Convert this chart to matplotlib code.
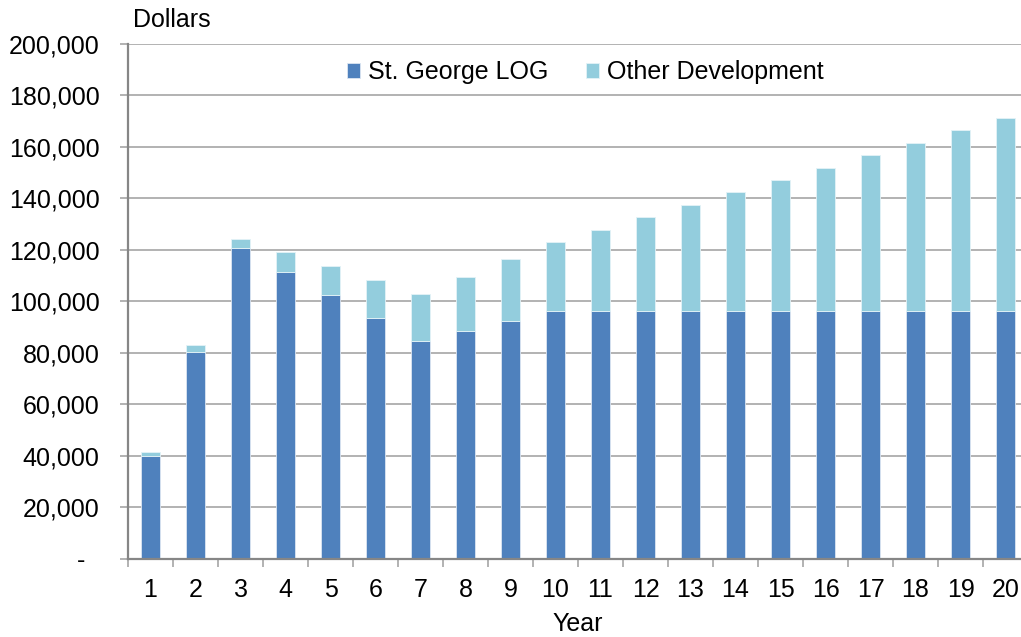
import matplotlib
matplotlib.use("Agg")
import matplotlib.pyplot as plt
import numpy as np
from matplotlib.ticker import FixedLocator

years = [str(i) for i in range(1, 21)]
st_george_log = [40000, 80300, 120500, 111500, 102500, 93600, 84700, 88300, 92400,
                 96200, 96200, 96200, 96200, 96200, 96200, 96200, 96200, 96200, 96200, 96200]
other_dev = [1300, 2600, 3800, 7500, 11100, 14600, 18100, 21200, 23900, 26800,
             31600, 36400, 41300, 46100, 50900, 55700, 60600, 65400, 70300, 75000]
y_ticks = list(range(0, 200001, 20000))
y_labels = ["-  "] + [f"{v:,}" for v in y_ticks[1:]]

plt.rcParams['font.family'] = ['Liberation Sans', 'DejaVu Sans']
FS = 18

fig = plt.figure(figsize=(10.21, 6.37), dpi=100)
W, H = 1021, 637
left, right, top, bottom = 128, 1028, 43.7, 558.7
ax = fig.add_axes([left / W, (H - bottom) / H, (right - left) / W, (bottom - top) / H])

x = np.arange(len(years))
dark = '#4F81BD'
light = '#93CDDD'
ax.bar(x, st_george_log, width=0.41, color=dark, edgecolor='#DCE6F2', linewidth=0.6,
       label='St. George LOG', zorder=3)
ax.bar(x, other_dev, width=0.41, bottom=st_george_log, color=light, edgecolor='#E4F3F7',
       linewidth=0.6, label='Other Development', zorder=3)

ax.set_xlim(-0.5, len(years) - 0.5)
ax.set_ylim(0, 200000)
ax.set_yticks(y_ticks)
ax.set_yticklabels(y_labels, fontsize=FS)
ax.yaxis.grid(True, color='#A6A6A6', linewidth=1.2, zorder=0)
ax.tick_params(axis='y', length=5.5, width=1.2, color='#A6A6A6', pad=15)

ax.set_xticks(x)
ax.set_xticklabels(years, fontsize=FS)
ax.tick_params(axis='x', which='major', length=0, pad=14)
ax.xaxis.set_minor_locator(FixedLocator(np.arange(-0.5, len(years), 1.0)))
ax.tick_params(axis='x', which='minor', length=5.5, width=1.2, color='#A6A6A6')

for s in ['top', 'right']:
    ax.spines[s].set_visible(False)
for s in ['left', 'bottom']:
    ax.spines[s].set_color('#868686')
    ax.spines[s].set_linewidth(1.6)
    ax.spines[s].set_zorder(4)

ax.set_xlabel('Year', fontsize=FS, labelpad=7)
fig.text(133 / W, 1 - 20 / H, 'Dollars', fontsize=FS, ha='left', va='center')

leg = ax.legend(loc='center', bbox_to_anchor=((585 - left) / (right - left), (bottom - 72) / (bottom - top)),
                ncol=2, frameon=False, fontsize=FS, handlelength=0.55, handleheight=0.55,
                handletextpad=0.3, columnspacing=1.5)

fig.savefig('out.png', dpi=100)
